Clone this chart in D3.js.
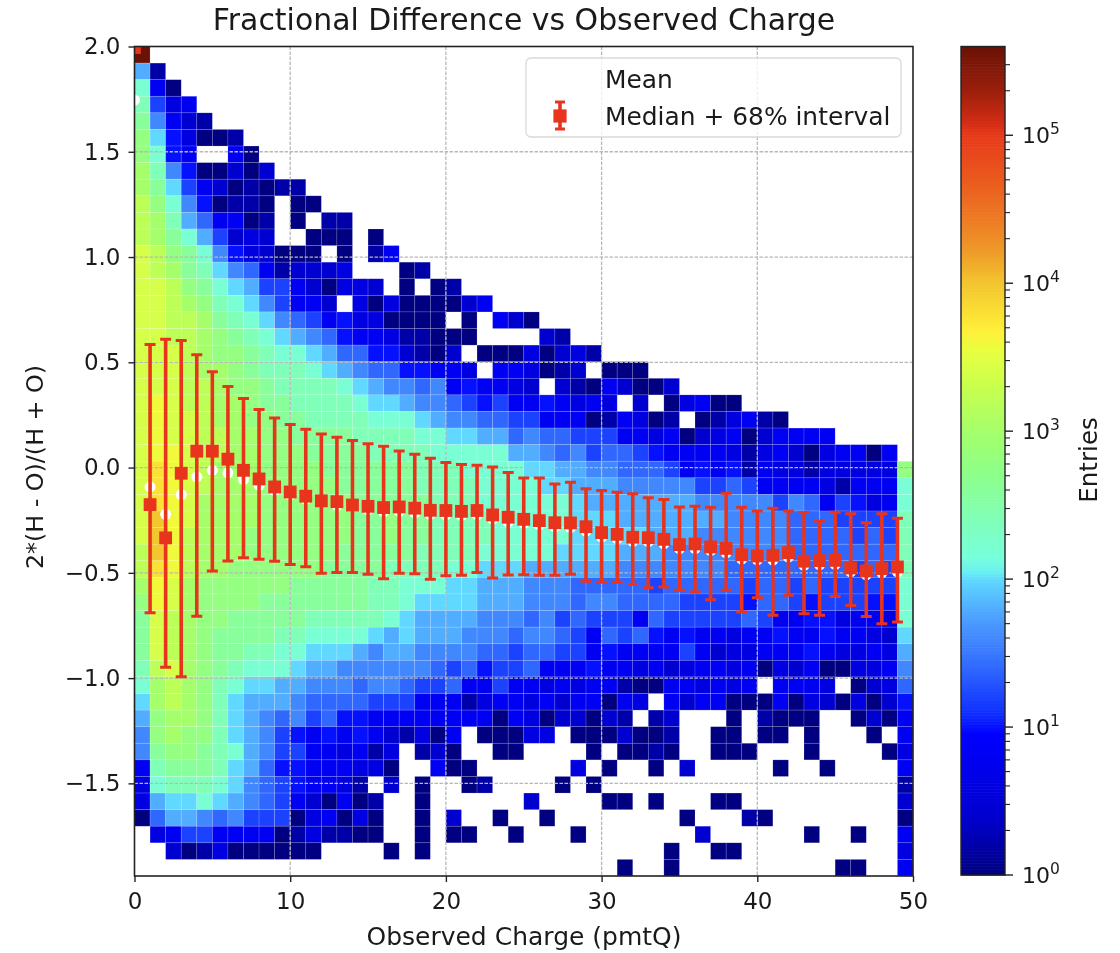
<!DOCTYPE html>
<html>
<head>
<meta charset="utf-8">
<script src="https://cdn.jsdelivr.net/npm/d3@7"></script>
<style>
  body { margin: 0; background: #fff; }
  svg { display: block; filter: blur(0.7px); }
  text { font-family: "DejaVu Sans", sans-serif; fill: #1a1a1a; }
</style>
</head>
<body>
<svg id="chart" width="1120" height="953"></svg>
<script>
// one string per y bin, top bin first, one character per x bin
// character = log10(entries) * 5 in base 36, "." = empty bin, short rows are empty on the right
const histRows = [
  "s",
  "91",
  "b40",
  "c634",
  "d8421",
  "ea53001",
  "eb54..40",
  "fc8500202",
  "fda64201011",
  "geb850110.00",
  "gfc974401.0.11",
  "gfdb96232..000.0",
  "hgedb8532000.0.14",
  "hgfdca87412223..." + "01",
  "hhgedba966420332." + "0.01",
  "hhgfecba86442.303" + "000024",
  "hhggfdcba87645330" + "000.0.420",
  "hhggfedcba9875443" + "11000....21",
  "hhhgfeedcbba97755" + "2102.00030231",
  "hhhgffedcccba9877" + "55443.443012.000",
  "hhhggfeedccccba98" + "878454432.2104200" + "2",
  "hihggffeddccccbaa" + "98876564454343.2." + "03400",
  "hihhgffeeddccccbb" + "ba988776644401430" + "1.013410",
  "hihhggffeeddddccc" + "cbbaa997877666443" + "40234024444",
  "hiihggffeeeddddcc" + "ccbbbbb9987867765" + "444431342034404",
  "hjihgfffeeeeddddd" + "dcccbbbbaa9988777" + "645451433133333e",
  "hjihgfffeeeeedddd" + "dccccbbbbaa999888" + "886676444431444b",
  "hjihffffeeeeeeddd" + "ddcccbbbbbba99999" + "998888868746534b",
  "hkihffffeeeeeedde" + "ddccccbbbbbaaa999" + "999988887776666c",
  "hkigfffeeeeeeedde" + "ddccccbbbbbaaaaa9" + "998888887777676c",
  "gkigfffeeeeeedddd" + "dccccbbbbbaaaa999" + "888888887777777c",
  "gjigffeeeeeeddddc" + "cccbbaaa999999888" + "888877777777676c",
  "fihfeeeeeedddddcc" + "bbbaa999888777776" + "777776776766666b",
  "eihfeeeedddddddcc" + "baaaa999888788777" + "766665776566655b",
  "dhgfeedddddcccccb" + "a9999888786766647" + "666667644553443b",
  "dhgfeddddccbbbba9" + "a9998887887647675" + "454434454454432a",
  "dhgfeddccbbaaa989" + "98888776776645444" + "4642334445433439",
  "cghfedcbbba998888" + "88767566744454434" + "2344340324003348",
  "bfgfecbaa99888788" + "76674464434344100" + "443434.4443.0237",
  "afgfeca9998777766" + "6444134434244043." + "4244000403203025",
  "9effeca9878675544" + "444444043022021.1" + "2...0.1000..0204",
  "8efeeca9865454542" + "1304.00033.000200" + "1..00.00.0...0.4",
  "8deedcb9866443413" + ".120..00....0.001" + "0..000...0....03",
  "4cdddca9755444330" + "..400......3.0..0" + ".2.....0..0....4",
  "3bcccba87654431.2" + ".0..01....0.0...." + "...............1",
  "39aaba9876420401." + ".0......2....00.0" + "...00..........2",
  "0799878666034030." + ".0.2..0..0......." + ".0...10........0",
  ".346644440131100." + ".0.00..0...0....." + "..2......0..0..4",
  "..2013000000....0" + ".0..............." + "0..00..........3",
  "................." + "..............0.." + "0..........00..4"
];

const medianX = d3.range(0, 50);
const medians = [1.995, -0.176, -0.334, -0.027, 0.078, 0.078, 0.04, -0.013, -0.054, -0.092, -0.116,
  -0.136, -0.158, -0.162, -0.178, -0.184, -0.19, -0.187, -0.193, -0.203, -0.204,
  -0.208, -0.204, -0.225, -0.236, -0.246, -0.252, -0.262, -0.263, -0.281, -0.309,
  -0.317, -0.331, -0.333, -0.341, -0.366, -0.363, -0.377, -0.384, -0.414, -0.42,
  -0.417, -0.404, -0.445, -0.442, -0.441, -0.477, -0.491, -0.48, -0.472];
const upper68 = [2.0, 0.585, 0.61, 0.604, 0.536, 0.455, 0.385, 0.328, 0.276, 0.236, 0.204,
  0.182, 0.16, 0.144, 0.128, 0.113, 0.101, 0.079, 0.063, 0.044, 0.024,
  0.014, 0.011, 0.003, -0.024, -0.049, -0.049, -0.078, -0.07, -0.101, -0.109,
  -0.117, -0.124, -0.143, -0.152, -0.187, -0.184, -0.189, -0.122, -0.189, -0.206,
  -0.193, -0.206, -0.214, -0.254, -0.212, -0.219, -0.262, -0.219, -0.241];
const lower68 = [1.99, -0.69, -0.948, -0.994, -0.706, -0.491, -0.444, -0.428, -0.436, -0.445, -0.461,
  -0.471, -0.502, -0.499, -0.499, -0.507, -0.528, -0.502, -0.504, -0.531, -0.514,
  -0.512, -0.499, -0.525, -0.51, -0.509, -0.512, -0.512, -0.507, -0.54, -0.545,
  -0.545, -0.555, -0.571, -0.567, -0.583, -0.591, -0.628, -0.583, -0.686, -0.618,
  -0.702, -0.607, -0.694, -0.702, -0.612, -0.655, -0.707, -0.742, -0.734];
const means = [1.745, -0.092, -0.222, -0.128, -0.044, -0.013, -0.025, -0.057, -0.084, -0.108, -0.13,
  -0.15, -0.163, -0.18, -0.187, -0.2, -0.21, -0.208, -0.215, -0.222, -0.225,
  -0.228, -0.225, -0.245, -0.258, -0.265, -0.272, -0.282, -0.285, -0.302, -0.33,
  -0.338, -0.35, -0.352, -0.362, -0.385, -0.385, -0.395, -0.405, -0.435, -0.438,
  -0.44, -0.425, -0.465, -0.462, -0.46, -0.495, -0.51, -0.5, -0.495];

const xTicks = [0, 10, 20, 30, 40, 50];
const yTicks = [2, 1.5, 1, 0.5, 0, -0.5, -1, -1.5];
const colorExps = [0, 1, 2, 3, 4, 5];

// colorbar colours read by eye, keyed by log10(entries)
const colorStops = [0, 0.4, 0.95, 1.1, 1.4, 1.7, 2, 2.05, 2.15, 2.4, 2.7, 3, 3.3, 3.55, 3.68, 4, 4.2, 4.4, 4.7, 5, 5.1, 5.3, 5.6];
const colorValues = ["#000080", "#0000d0", "#0000ff", "#1030ff", "#3068ff", "#4a98ff", "#60d8ff", "#68f0f0", "#78ffdc",
  "#80ffb8", "#8cff8c", "#a4ff6a", "#c8ff4e", "#e8ff3e", "#fff03a", "#f3c52e", "#ee9e2a", "#ee7f24", "#ea5a1e",
  "#e83a1a", "#d02c14", "#9c1f0c", "#6a1205"];

const yMin = -1.94, yMax = 2, xMax = 50, maxExp = 5.6;
const nBins = 50;
const plot = { left: 134.5, right: 913, top: 46.5, bottom: 876 };
const bar = { left: 961, right: 1005 };
const red = "#e8341c";

const svg = d3.select("#chart");
const x = d3.scaleLinear().domain([0, xMax]).range([plot.left, plot.right]);
const y = d3.scaleLinear().domain([yMin, yMax]).range([plot.bottom, plot.top]);
const color = d3.scaleLinear().domain(colorStops).range(colorValues).interpolate(d3.interpolateRgb);
const barY = d3.scaleLinear().domain([0, maxExp]).range([plot.bottom - 1, plot.top]);

svg.append("clipPath").attr("id", "plotClip").append("rect")
  .attr("x", plot.left).attr("y", plot.top)
  .attr("width", plot.right - plot.left).attr("height", plot.bottom - plot.top);

// Decode the rows into cells
const binH = (yMax - yMin) / nBins;
const cells = [];
histRows.forEach((row, r) => {
  row.split("").forEach((ch, c) => {
    if (ch === ".") return;
    cells.push({ col: c, row: r, exp: parseInt(ch, 36) / 5 });
  });
});

svg.append("g").selectAll("rect")
  .data(cells)
  .join("rect")
  .attr("x", d => x(d.col))
  .attr("y", d => y(yMax - d.row * binH))
  .attr("width", x(1) - x(0))
  .attr("height", y(0) - y(binH))
  .attr("fill", d => color(d.exp))
  .attr("stroke", "#fff")
  .attr("stroke-opacity", 0.2)
  .attr("stroke-width", 0.7);

// Grid sits over the histogram
const grid = svg.append("g").attr("stroke", "#b8b8b8").attr("stroke-width", 1.3).attr("stroke-dasharray", "3.5,1.5");
grid.selectAll(".gx").data(xTicks.slice(1, -1)).join("line").attr("class", "gx")
  .attr("x1", d => x(d)).attr("x2", d => x(d)).attr("y1", plot.top).attr("y2", plot.bottom);
grid.selectAll(".gy").data(yTicks.slice(1)).join("line").attr("class", "gy")
  .attr("x1", plot.left).attr("x2", plot.right).attr("y1", d => y(d)).attr("y2", d => y(d));

// Mean points, then median + interval on top
const markG = svg.append("g").attr("clip-path", "url(#plotClip)");
markG.selectAll("circle")
  .data(medianX)
  .join("circle")
  .attr("cx", d => x(d))
  .attr("cy", (d, i) => y(means[i]))
  .attr("r", 5.5)
  .attr("fill", "#fff");

function drawErrorMark(g, cx, yHi, yLo, yMid, cap, box) {
  g.append("line").attr("x1", cx).attr("x2", cx).attr("y1", yHi).attr("y2", yLo)
    .attr("stroke", red).attr("stroke-width", 3.6);
  [yHi, yLo].forEach(v => {
    g.append("line").attr("x1", cx - cap).attr("x2", cx + cap).attr("y1", v).attr("y2", v)
      .attr("stroke", red).attr("stroke-width", 3);
  });
  g.append("rect").attr("x", cx - box).attr("y", yMid - box).attr("width", box * 2).attr("height", box * 2)
    .attr("fill", red);
}

medianX.forEach((d, i) => {
  drawErrorMark(markG, x(d), y(upper68[i]), y(lower68[i]), y(medians[i]), 5.5, 6.4);
});

// Axes
const xAxis = d3.axisBottom(x).tickValues(xTicks).tickSize(6).tickPadding(11).tickFormat(d3.format("d"));
const yAxis = d3.axisLeft(y).tickValues(yTicks).tickSize(6).tickPadding(8)
  .tickFormat(d => d3.format(".1f")(d).replace("-", "\u2212"));

const gx = svg.append("g").attr("transform", `translate(0,${plot.bottom})`).call(xAxis);
const gy = svg.append("g").attr("transform", `translate(${plot.left},0)`).call(yAxis);
[gx, gy].forEach(g => {
  g.select(".domain").remove();
  g.selectAll(".tick line").attr("stroke", "#222").attr("stroke-width", 1.4);
  g.selectAll("text").attr("font-size", 23).attr("fill", "#1a1a1a");
});

svg.append("rect")
  .attr("x", plot.left).attr("y", plot.top)
  .attr("width", plot.right - plot.left).attr("height", plot.bottom - plot.top)
  .attr("fill", "none").attr("stroke", "#222").attr("stroke-width", 1.6);

// Titles
svg.append("text").attr("x", 524).attr("y", 30).attr("text-anchor", "middle").attr("font-size", 29.9)
  .text("Fractional Difference vs Observed Charge");
svg.append("text").attr("x", 524).attr("y", 945).attr("text-anchor", "middle").attr("font-size", 25)
  .text("Observed Charge (pmtQ)");
svg.append("text").attr("transform", "translate(43,467) rotate(-90)").attr("text-anchor", "middle").attr("font-size", 23.8)
  .text("2*(H - O)/(H + O)");

// Legend
const legend = svg.append("g");
legend.append("rect").attr("x", 526).attr("y", 58).attr("width", 375).attr("height", 79).attr("rx", 5)
  .attr("fill", "#fff").attr("fill-opacity", 0.8).attr("stroke", "#d9d9d9").attr("stroke-width", 1.3);
legend.append("text").attr("x", 605).attr("y", 88).attr("font-size", 24.9).text("Mean");
legend.append("text").attr("x", 605).attr("y", 125).attr("font-size", 24.9).text("Median + 68% interval");
drawErrorMark(legend, 560, 102, 129, 116, 5, 6.6);

// Colorbar
const barSteps = d3.range(0, 280);
svg.append("g").selectAll("rect")
  .data(barSteps)
  .join("rect")
  .attr("x", bar.left)
  .attr("y", d => barY((d + 1) / 280 * maxExp))
  .attr("width", bar.right - bar.left)
  .attr("height", (barY(0) - barY(maxExp)) / 280 + 0.6)
  .attr("fill", d => color((d + 0.5) / 280 * maxExp));

svg.append("rect").attr("x", bar.left).attr("y", barY(maxExp))
  .attr("width", bar.right - bar.left).attr("height", barY(0) - barY(maxExp))
  .attr("fill", "none").attr("stroke", "#222").attr("stroke-width", 1.4);

const minorTicks = [];
colorExps.forEach(e => {
  d3.range(2, 10).forEach(m => {
    const v = e + Math.log10(m);
    if (v <= maxExp) minorTicks.push(v);
  });
});
svg.append("g").selectAll("line").data(minorTicks).join("line")
  .attr("x1", bar.right).attr("x2", bar.right + 5)
  .attr("y1", d => barY(d)).attr("y2", d => barY(d))
  .attr("stroke", "#222").attr("stroke-width", 1.1);
svg.append("g").selectAll("line").data(colorExps).join("line")
  .attr("x1", bar.right).attr("x2", bar.right + 8)
  .attr("y1", d => barY(d)).attr("y2", d => barY(d))
  .attr("stroke", "#222").attr("stroke-width", 1.4);

const barLabels = svg.append("g").selectAll("text").data(colorExps).join("text")
  .attr("x", bar.right + 17)
  .attr("y", d => barY(d) + 8)
  .attr("font-size", 22);
barLabels.append("tspan").text("10");
barLabels.append("tspan").attr("dy", -9).attr("font-size", 15.5).text(d => d);

svg.append("text").attr("transform", "translate(1097,460) rotate(-90)").attr("text-anchor", "middle").attr("font-size", 24.6)
  .text("Entries");
</script>
</body>
</html>
